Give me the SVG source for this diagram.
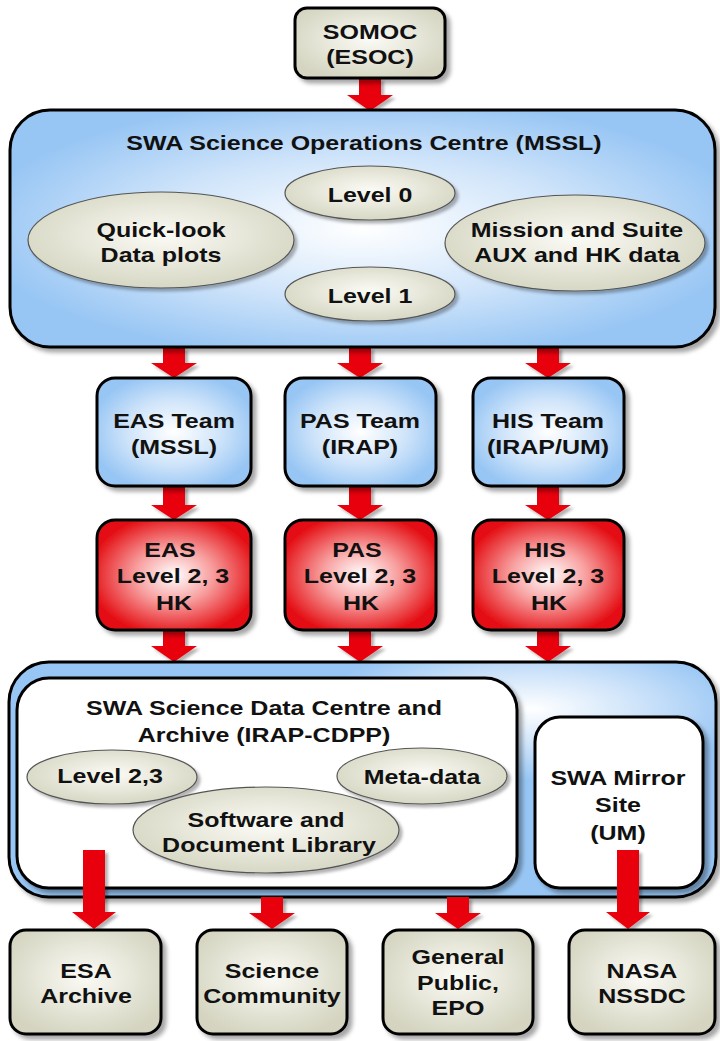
<svg xmlns="http://www.w3.org/2000/svg" width="720" height="1041" viewBox="0 0 720 1041">
<defs>
<radialGradient id="gBlue" cx="0.5" cy="0.5" r="0.55">
<stop offset="0" stop-color="#ffffff"/>
<stop offset="0.55" stop-color="#cfe4fa"/>
<stop offset="1" stop-color="#98c6f4"/>
</radialGradient>
<radialGradient id="gBlue2" cx="0.74" cy="0.2" r="0.3">
<stop offset="0" stop-color="#ffffff"/>
<stop offset="0.5" stop-color="#cfe4fa"/>
<stop offset="1" stop-color="#98c6f4"/>
</radialGradient>
<radialGradient id="gRed" cx="0.5" cy="0.5" r="0.55">
<stop offset="0" stop-color="#ffffff"/>
<stop offset="0.45" stop-color="#f8a0a0"/>
<stop offset="1" stop-color="#e41015"/>
</radialGradient>
<radialGradient id="gBeige" cx="0.5" cy="0.45" r="0.6">
<stop offset="0" stop-color="#fbfbf6"/>
<stop offset="1" stop-color="#d4d4c0"/>
</radialGradient>
<filter id="sh" x="-10%" y="-10%" width="130%" height="130%">
<feDropShadow dx="4" dy="4" stdDeviation="2" flood-color="#000" flood-opacity="0.35"/>
</filter>
<filter id="shs" x="-10%" y="-10%" width="130%" height="130%">
<feDropShadow dx="3" dy="3" stdDeviation="1.5" flood-color="#000" flood-opacity="0.3"/>
</filter>
</defs>
<style>
.box{stroke:#000;stroke-width:3;filter:url(#sh)}
.blue{fill:url(#gBlue)}
.blue2{fill:url(#gBlue2)}
.red{fill:url(#gRed)}
.beige{fill:url(#gBeige)}
.white{fill:#fff}
.ell{fill:url(#gBeige);stroke:#555;stroke-width:1.2;filter:url(#shs)}
.arr{fill:#e8000a;filter:url(#shs)}
text{font-family:"Liberation Sans",Arial,sans-serif;font-weight:bold;font-size:21px;fill:#111;text-anchor:middle}
</style>
<rect width="720" height="1041" fill="#fff"/>

<g id="connectors">
<polygon class="arr" points="359,78 381,78 381,95 393,95 370,111 347,95 359,95"/>
<polygon class="arr" points="163,347 185,347 185,363 197,363 174,378 151,363 163,363"/>
<polygon class="arr" points="349,347 371,347 371,363 383,363 360,378 337,363 349,363"/>
<polygon class="arr" points="537,347 559,347 559,363 571,363 548,378 525,363 537,363"/>
<polygon class="arr" points="163,486 185,486 185,505 197,505 174,520 151,505 163,505"/>
<polygon class="arr" points="349,486 371,486 371,505 383,505 360,520 337,505 349,505"/>
<polygon class="arr" points="537,486 559,486 559,505 571,505 548,520 525,505 537,505"/>
<polygon class="arr" points="163,630 185,630 185,646 197,646 174,662 151,646 163,646"/>
<polygon class="arr" points="349,630 371,630 371,646 383,646 360,662 337,646 349,646"/>
<polygon class="arr" points="537,630 559,630 559,646 571,646 548,662 525,646 537,646"/>
</g>

<g id="somoc">
<rect class="box beige" x="295" y="8" width="150" height="70" rx="12"/>
<text transform="translate(370,39) scale(1.19,1)">SOMOC</text>
<text transform="translate(370,64) scale(1.19,1)">(ESOC)</text>
</g>

<g id="soc">
<rect class="box blue" x="10" y="110" width="705" height="237" rx="40"/>
<text transform="translate(364,150) scale(1.19,1)">SWA Science Operations Centre (MSSL)</text>
</g>
<g id="level0">
<ellipse class="ell" cx="370" cy="193" rx="85" ry="27"/>
<text transform="translate(370,202) scale(1.19,1)">Level 0</text>
</g>
<g id="quicklook">
<ellipse class="ell" cx="161" cy="240" rx="133" ry="48"/>
<text transform="translate(161,237) scale(1.19,1)">Quick-look</text>
<text transform="translate(161,262) scale(1.19,1)">Data plots</text>
</g>
<g id="mission">
<ellipse class="ell" cx="575" cy="243" rx="130" ry="48"/>
<text transform="translate(577,237) scale(1.19,1)">Mission and Suite</text>
<text transform="translate(577,262) scale(1.19,1)">AUX and HK data</text>
</g>
<g id="level1">
<ellipse class="ell" cx="370" cy="294" rx="85" ry="27"/>
<text transform="translate(370,303) scale(1.19,1)">Level 1</text>
</g>

<g id="eas-team">
<rect class="box blue" x="97" y="378" width="154" height="108" rx="18"/>
<text transform="translate(174,428) scale(1.19,1)">EAS Team</text>
<text transform="translate(174,454) scale(1.19,1)">(MSSL)</text>
</g>
<g id="pas-team">
<rect class="box blue" x="285" y="378" width="151" height="108" rx="18"/>
<text transform="translate(360,428) scale(1.19,1)">PAS Team</text>
<text transform="translate(360,454) scale(1.19,1)">(IRAP)</text>
</g>
<g id="his-team">
<rect class="box blue" x="473" y="378" width="151" height="108" rx="18"/>
<text transform="translate(548,428) scale(1.19,1)">HIS Team</text>
<text transform="translate(548,454) scale(1.19,1)">(IRAP/UM)</text>
</g>

<g id="eas-data">
<rect class="box red" x="97" y="520" width="154" height="110" rx="18"/>
<text transform="translate(170,557) scale(1.19,1)">EAS</text>
<text transform="translate(173,583) scale(1.19,1)">Level 2, 3</text>
<text transform="translate(174,610) scale(1.19,1)">HK</text>
</g>
<g id="pas-data">
<rect class="box red" x="285" y="520" width="151" height="110" rx="18"/>
<text transform="translate(357,557) scale(1.19,1)">PAS</text>
<text transform="translate(360,583) scale(1.19,1)">Level 2, 3</text>
<text transform="translate(361,610) scale(1.19,1)">HK</text>
</g>
<g id="his-data">
<rect class="box red" x="473" y="520" width="151" height="110" rx="18"/>
<text transform="translate(545,557) scale(1.19,1)">HIS</text>
<text transform="translate(548,583) scale(1.19,1)">Level 2, 3</text>
<text transform="translate(549,610) scale(1.19,1)">HK</text>
</g>

<g id="archive-container">
<rect class="box blue2" x="9" y="662" width="707" height="235" rx="40"/>
</g>
<g id="sdc">
<rect class="box white" x="17" y="678" width="500" height="210" rx="32"/>
<text transform="translate(264,715) scale(1.19,1)">SWA Science Data Centre and</text>
<text transform="translate(264,742) scale(1.19,1)">Archive (IRAP-CDPP)</text>
</g>
<g id="level23">
<ellipse class="ell" cx="112" cy="777" rx="85" ry="27"/>
<text transform="translate(110,783) scale(1.19,1)">Level 2,3</text>
</g>
<g id="metadata">
<ellipse class="ell" cx="422" cy="776" rx="85" ry="28"/>
<text transform="translate(422,784) scale(1.19,1)">Meta-data</text>
</g>
<g id="software">
<ellipse class="ell" cx="266" cy="830" rx="133" ry="43"/>
<text transform="translate(266,827) scale(1.19,1)">Software and</text>
<text transform="translate(269,852) scale(1.19,1)">Document Library</text>
</g>
<g id="mirror">
<rect class="box white" x="535" y="717" width="168" height="171" rx="25"/>
<text transform="translate(618,785) scale(1.19,1)">SWA Mirror</text>
<text transform="translate(618,812) scale(1.19,1)">Site</text>
<text transform="translate(618,840) scale(1.19,1)">(UM)</text>
</g>

<g id="connectors-out">
<polygon class="arr" points="83,850 105,850 105,912 116,912 94,929 72,912 83,912"/>
<polygon class="arr" points="261,897 283,897 283,913 295,913 272,929 249,913 261,913"/>
<polygon class="arr" points="447,897 469,897 469,913 481,913 458,929 435,913 447,913"/>
<polygon class="arr" points="617,850 639,850 639,912 650,912 628,929 606,912 617,912"/>
</g>

<g id="esa">
<rect class="box beige" x="10" y="930" width="151" height="104" rx="16"/>
<text transform="translate(86,978) scale(1.19,1)">ESA</text>
<text transform="translate(86,1003) scale(1.19,1)">Archive</text>
</g>
<g id="community">
<rect class="box beige" x="197" y="930" width="150" height="104" rx="16"/>
<text transform="translate(272,978) scale(1.19,1)">Science</text>
<text transform="translate(272,1003) scale(1.19,1)">Community</text>
</g>
<g id="public">
<rect class="box beige" x="383" y="930" width="150" height="104" rx="16"/>
<text transform="translate(458,964) scale(1.19,1)">General</text>
<text transform="translate(458,990) scale(1.19,1)">Public,</text>
<text transform="translate(458,1015) scale(1.19,1)">EPO</text>
</g>
<g id="nasa">
<rect class="box beige" x="569" y="930" width="146" height="104" rx="16"/>
<text transform="translate(642,978) scale(1.19,1)">NASA</text>
<text transform="translate(642,1003) scale(1.19,1)">NSSDC</text>
</g>
</svg>
